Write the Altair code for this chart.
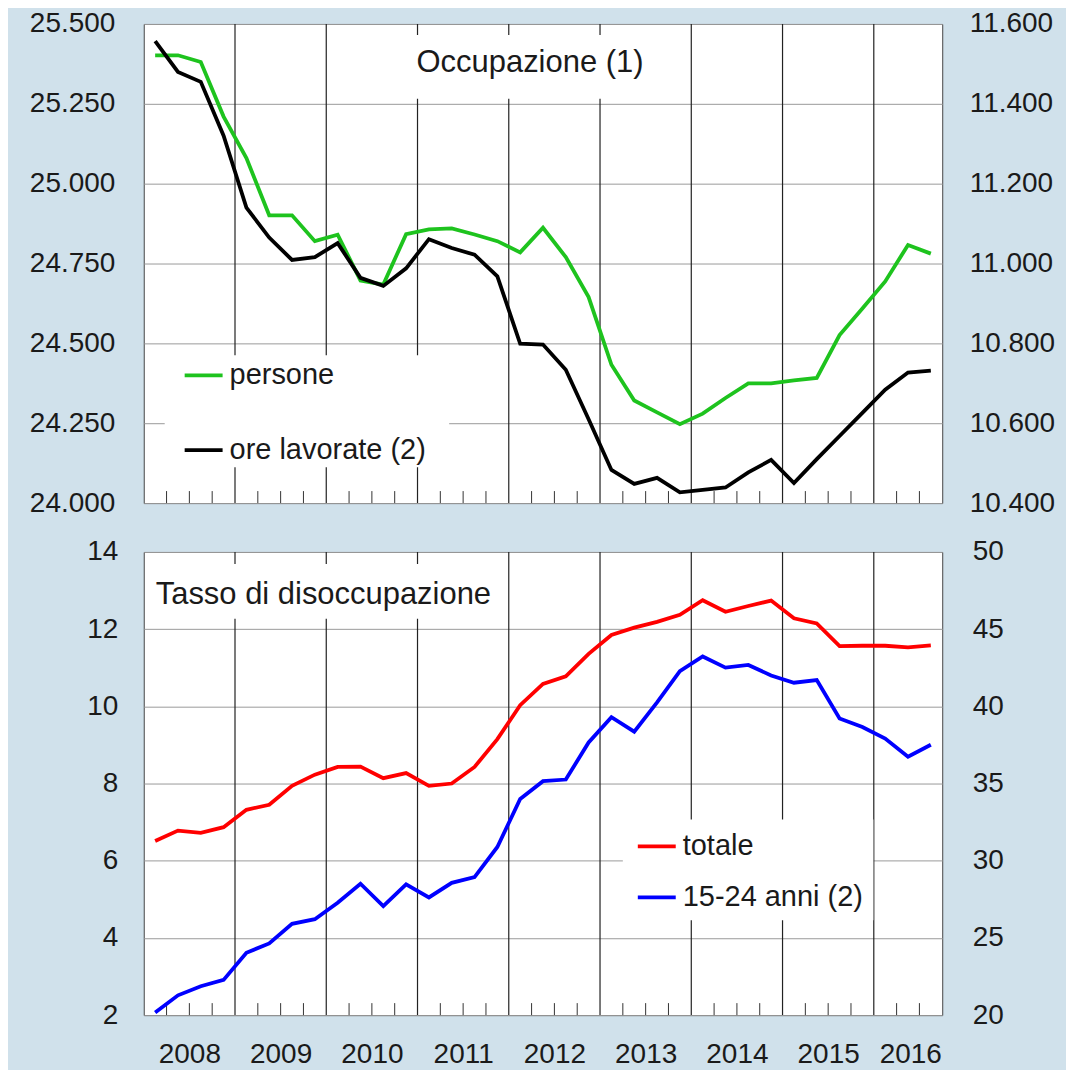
import altair as alt
import pandas as pd

FONT = "Liberation Sans"
TXT = "#1a1a1a"

# ---------------- data ----------------
anni = list(range(2008, 2017))
trimestri = [(a, q) for a in anni for q in (1, 2, 3, 4)][:35]   # 2008 T1 - 2016 T3

persone = [25402, 25402, 25381, 25210, 25080, 24901, 24901, 24820, 24840, 24697,
           24684, 24842, 24857, 24860, 24841, 24820, 24785, 24862, 24770, 24645,
           24433, 24321, 24284, 24247, 24280, 24329, 24375, 24375, 24384, 24392,
           24526, 24609, 24694, 24808, 24781]
ore_lavorate = [11557, 11480, 11455, 11320, 11140, 11065, 11009, 11016, 11051, 10964,
                10944, 10988, 11061, 11039, 11022, 10968, 10799, 10797, 10734, 10610,
                10483, 10448, 10463, 10427, 10433, 10439, 10477, 10508, 10450, 10510,
                10568, 10626, 10684, 10727, 10732]
totale = [6.51, 6.78, 6.72, 6.87, 7.32, 7.45, 7.94, 8.23, 8.43, 8.44,
          8.14, 8.27, 7.94, 8.00, 8.43, 9.15, 10.03, 10.58, 10.78, 11.36,
          11.85, 12.04, 12.19, 12.37, 12.75, 12.45, 12.60, 12.74, 12.28, 12.15,
          11.56, 11.57, 11.57, 11.53, 11.58]
giovani = [20.17, 21.28, 21.87, 22.28, 24.04, 24.64, 25.91, 26.21, 27.28, 28.51,
           27.06, 28.47, 27.62, 28.57, 28.94, 30.89, 34.00, 35.15, 35.26, 37.66,
           39.30, 38.36, 40.26, 42.28, 43.23, 42.51, 42.68, 42.00, 41.53, 41.70,
           39.21, 38.66, 37.91, 36.74, 37.51]

ticks_occ_sx = [24000, 24250, 24500, 24750, 25000, 25250, 25500]
ticks_occ_dx = [10400, 10600, 10800, 11000, 11200, 11400, 11600]
ticks_dis_sx = [2, 4, 6, 8, 10, 12, 14]
ticks_dis_dx = [20, 25, 30, 35, 40, 45, 50]
etichette_anni = [2008.5, 2009.5, 2010.5, 2011.5, 2012.5, 2013.5, 2014.5, 2015.5, 2016.4]

df = pd.DataFrame({
    "t": [a + (q - 0.5) / 4 for a, q in trimestri],
    "persone": persone,
    "ore": ore_lavorate,
    "totale": totale,
    "giovani": giovani,
})
df_anni = pd.DataFrame({"anno": anni[1:]})
df_trim = pd.DataFrame({"q": [a + k / 4 for a in anni for k in (1, 2, 3) if a + k / 4 < 2016.75]})
one = pd.DataFrame({"k": [0]})

W, H1, H2 = 800, 480, 464
X_DOM = [2008, 2016.75]
FMT = "replace(format(datum.value, ','), ',', '.')"
LW = 3.8


def xenc(field, axis=None):
    return alt.X(f"{field}:Q", scale=alt.Scale(domain=X_DOM, nice=False, zero=False), axis=axis)


def yaxis(orient, values, pad, expr=None, grid=False):
    kw = dict(orient=orient, values=values, grid=grid, gridColor="#9a9a9a", gridWidth=1,
              ticks=False, tickSize=0, domain=False, labelPadding=pad, labelFontSize=28,
              labelFont=FONT, labelColor=TXT, title=None, labelOverlap=False)
    if expr:
        kw["labelExpr"] = expr
    return alt.Axis(**kw)


def legend(x, y, rowpad):
    return alt.Legend(orient="none", legendX=x, legendY=y, title=None, symbolType="stroke",
                      symbolSize=1444, symbolStrokeWidth=LW, labelFontSize=29, labelFont=FONT,
                      labelColor=TXT, labelOffset=5, rowPadding=rowpad, padding=0,
                      labelLimit=600, direction="vertical")


def frame_layers(H, axis):
    rules = alt.Chart(df_anni).mark_rule(color="#222222", strokeWidth=1.2).encode(x=xenc("anno", axis))
    qt = alt.Chart(df_trim).mark_rule(color="#333333", strokeWidth=1).encode(
        x=xenc("q", axis), y=alt.value(H), y2=alt.value(H - 12))
    return [rules, qt]


def box(x1, x2, y1, y2):
    return alt.Chart(one).mark_rect(fill="white").encode(
        x=alt.value(x1), x2=alt.value(x2), y=alt.value(y1), y2=alt.value(y2))


# ---------------- top panel ----------------
col_top = alt.Scale(domain=["persone", "ore lavorate (2)"], range=["#1ec31e", "#000000"])
leg_top = legend(39, 331, 39)

l_pers = alt.Chart(df).transform_calculate(serie="'persone'").mark_line(strokeWidth=LW).encode(
    x=xenc("t"),
    y=alt.Y("persone:Q", scale=alt.Scale(domain=[24000, 25500], nice=False, zero=False),
            axis=yaxis("left", ticks_occ_sx, 29, FMT, grid=True)),
    color=alt.Color("serie:N", scale=col_top, legend=leg_top),
)
l_ore = alt.Chart(df).transform_calculate(serie="'ore lavorate (2)'").mark_line(strokeWidth=LW).encode(
    x=xenc("t"),
    y=alt.Y("ore:Q", scale=alt.Scale(domain=[10400, 11600], nice=False, zero=False),
            axis=yaxis("right", ticks_occ_dx, 27, FMT)),
    color=alt.Color("serie:N", scale=col_top, legend=leg_top),
)
title_top = alt.Chart(one).mark_text(text="Occupazione (1)", font=FONT, fontSize=31, color=TXT,
                                     align="center", baseline="alphabetic").encode(
    x=alt.value(387), y=alt.value(48))

top = alt.layer(
    *frame_layers(H1, None),
    box(257, 517, 11, 75),
    box(21, 306, 332, 444),
    title_top,
    l_pers, l_ore,
).resolve_scale(y="independent").properties(width=W, height=H1)

# ---------------- bottom panel ----------------
col_bot = alt.Scale(domain=["totale", "15-24 anni (2)"], range=["#ff0000", "#0000ff"])
leg_bot = legend(493, 274, 15)
x_axis_bot = alt.Axis(values=etichette_anni, labelExpr="floor(datum.value)", ticks=False, tickSize=0,
                      domain=False, grid=False, labelPadding=25, labelFontSize=28, labelFont=FONT,
                      labelColor=TXT, title=None, labelAngle=0, labelFlush=False, labelOverlap=False)

l_tot = alt.Chart(df).transform_calculate(serie="'totale'").mark_line(strokeWidth=LW).encode(
    x=xenc("t", x_axis_bot),
    y=alt.Y("totale:Q", scale=alt.Scale(domain=[2, 14], nice=False, zero=False),
            axis=yaxis("left", ticks_dis_sx, 26, grid=True)),
    color=alt.Color("serie:N", scale=col_bot, legend=leg_bot),
)
l_gio = alt.Chart(df).transform_calculate(serie="'15-24 anni (2)'").mark_line(strokeWidth=LW).encode(
    x=xenc("t", x_axis_bot),
    y=alt.Y("giovani:Q", scale=alt.Scale(domain=[20, 50], nice=False, zero=False),
            axis=yaxis("right", ticks_dis_dx, 30)),
    color=alt.Color("serie:N", scale=col_bot, legend=leg_bot),
)
title_bot = alt.Chart(one).mark_text(text="Tasso di disoccupazione", font=FONT, fontSize=31, color=TXT,
                                     align="left", baseline="alphabetic").encode(
    x=alt.value(12), y=alt.value(52))

bottom = alt.layer(
    *frame_layers(H2, x_axis_bot),
    box(4, 359, 12, 67),
    box(480, 731, 268, 369),
    title_bot,
    l_tot, l_gio,
).resolve_scale(y="independent").properties(width=W, height=H2)

chart = alt.vconcat(top, bottom, spacing=49, bounds="flush").resolve_scale(
    x="independent", y="independent", color="independent"
).properties(
    background="#d0e1eb",
    padding={"left": 20, "top": 0, "right": 10, "bottom": 0},
).configure_view(stroke="#444444", strokeWidth=1, fill="white")

chart.save("out.html", embed_options={"renderer": "svg", "actions": False})
